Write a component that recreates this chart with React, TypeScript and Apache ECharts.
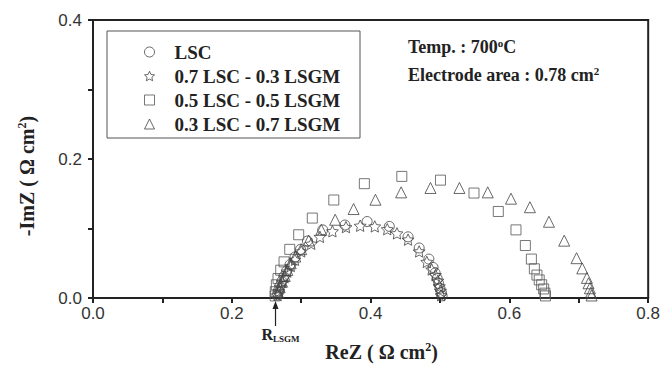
import React, { useEffect, useRef } from "react";
import * as echarts from "echarts";

const seriesNames = ["LSC", "0.7 LSC - 0.3 LSGM", "0.5 LSC - 0.5 LSGM", "0.3 LSC - 0.7 LSGM"];

const lscRe = [0.265, 0.267, 0.269, 0.272, 0.275, 0.279, 0.284, 0.291, 0.299, 0.309, 0.331, 0.363, 0.395, 0.427, 0.454, 0.470, 0.484, 0.490, 0.493, 0.496, 0.498, 0.500, 0.502, 0.503];
const lscIm = [0.004, 0.010, 0.017, 0.024, 0.031, 0.039, 0.048, 0.059, 0.070, 0.082, 0.098, 0.105, 0.110, 0.103, 0.088, 0.072, 0.056, 0.044, 0.036, 0.028, 0.021, 0.014, 0.008, 0.003];

const s73Re = [0.266, 0.268, 0.270, 0.273, 0.276, 0.280, 0.285, 0.291, 0.300, 0.3145, 0.327, 0.345, 0.3645, 0.385, 0.406, 0.424, 0.438, 0.454, 0.470, 0.481, 0.488, 0.4935, 0.497, 0.499, 0.5007, 0.5016];
const s73Im = [0.004, 0.010, 0.016, 0.023, 0.030, 0.038, 0.046, 0.055, 0.067, 0.078, 0.088, 0.096, 0.102, 0.104, 0.103, 0.099, 0.093, 0.084, 0.067, 0.052, 0.041, 0.033, 0.025, 0.017, 0.0105, 0.004];

const s55Re = [0.2625, 0.2627, 0.2642, 0.2666, 0.2705, 0.2753, 0.2835, 0.2964, 0.316, 0.347, 0.391, 0.445, 0.5007, 0.549, 0.584, 0.6095, 0.623, 0.6317, 0.636, 0.6397, 0.643, 0.6465, 0.6494, 0.6512, 0.652];
const s55Im = [0.003, 0.009, 0.019, 0.028, 0.040, 0.052, 0.070, 0.091, 0.115, 0.141, 0.1645, 0.175, 0.1696, 0.151, 0.1245, 0.098, 0.0755, 0.056, 0.042, 0.033, 0.026, 0.019, 0.013, 0.007, 0.003];

const s37Re = [0.2667, 0.269, 0.2724, 0.2763, 0.280, 0.2849, 0.2915, 0.300, 0.3108, 0.329, 0.349, 0.3755, 0.407, 0.444, 0.4863, 0.528, 0.5688, 0.6023, 0.6296, 0.657, 0.679, 0.6968, 0.705, 0.7117, 0.714, 0.716, 0.7174, 0.7184];
const s37Im = [0.0076, 0.0154, 0.0235, 0.0317, 0.0404, 0.050, 0.0596, 0.0703, 0.0827, 0.0981, 0.1126, 0.128, 0.1414, 0.152, 0.1583, 0.1583, 0.152, 0.1429, 0.1306, 0.1097, 0.0825, 0.0573, 0.0426, 0.0289, 0.0212, 0.014, 0.0076, 0.0036];

const xTicks = { min: 0, max: 0.8, interval: 0.2 };
const yTicks = { min: 0, max: 0.4, interval: 0.2 };
const rLsgmRe = 0.263;

const starPath = "path://M50,2 L64.1,32.6 L97.6,36.5 L72.8,59.4 L79.4,92.5 L50,76 L20.6,92.5 L27.2,59.4 L2.4,36.5 L35.9,32.6 Z";

const zip = (a: number[], b: number[]) => a.map((v, i) => [v, b[i]]);

const serif = "'Liberation Serif', 'Times New Roman', serif";
const sans = "'Liberation Sans', Arial, sans-serif";

export default function App() {
  const ref = useRef<HTMLDivElement>(null);
  useEffect(() => {
    const chart = echarts.init(ref.current!, null, { renderer: "svg" });
    const symbols = ["circle", starPath, "rect", "triangle"];
    const sizes = [10, 12, 10, 11];
    const cols = ["#444", "#444", "#555", "#444"];
    const mk = (i: number, re: number[], im: number[]) => ({
      name: seriesNames[i],
      type: "scatter",
      data: zip(re, im),
      symbol: symbols[i],
      symbolSize: sizes[i],
      symbolKeepAspect: true,
      itemStyle: { color: "rgba(255,255,255,0)", borderColor: cols[i], borderWidth: 1 },
    });
    chart.setOption({
      animation: false,
      backgroundColor: "#fff",
      grid: { left: 93, right: 12, top: 20, bottom: 79, show: true, borderColor: "#222", borderWidth: 2 },
      xAxis: {
        type: "value",
        ...xTicks,
        axisLine: { lineStyle: { color: "#222", width: 2 } },
        axisTick: { show: true, inside: false, length: 5, lineStyle: { color: "#222", width: 2 } },
        minorTick: { show: true, splitNumber: 2, length: 5, lineStyle: { color: "#222", width: 2 } },
        splitLine: { show: false },
        axisLabel: { fontFamily: sans, fontSize: 17, color: "#333", margin: 7, formatter: (v: number) => v.toFixed(1) },
        name: "ReZ ( Ω cm{sup|2})",
        nameLocation: "middle",
        nameGap: 43,
        nameTextStyle: {
          fontFamily: serif, fontWeight: "bold", fontSize: 20, color: "#222", padding: [0, 0, 0, 22],
          rich: { sup: { fontFamily: serif, fontWeight: "bold", fontSize: 12, color: "#222", verticalAlign: "top", padding: [0, 0, 10, 0] } },
        },
      },
      yAxis: {
        type: "value",
        ...yTicks,
        axisLine: { lineStyle: { color: "#222", width: 2 } },
        axisTick: { show: true, inside: false, length: 5, lineStyle: { color: "#222", width: 2 } },
        minorTick: { show: true, splitNumber: 2, length: 5, lineStyle: { color: "#222", width: 2 } },
        splitLine: { show: false },
        axisLabel: { fontFamily: sans, fontSize: 17, color: "#333", margin: 11, formatter: (v: number) => v.toFixed(1) },
      },
      legend: {
        orient: "vertical",
        left: 139,
        top: 37,
        itemWidth: 10,
        itemHeight: 10,
        itemGap: 4,
        textStyle: { fontFamily: serif, fontWeight: "bold", fontSize: 19, color: "#222", lineHeight: 20, padding: [0, 0, 0, 15] },
        data: seriesNames.map((n, i) => ({
          name: n,
          icon: symbols[i],
          itemStyle: { color: "rgba(255,255,255,0)", borderColor: cols[i], borderWidth: 1 },
        })),
      },
      series: [
        mk(0, lscRe, lscIm),
        mk(1, s73Re, s73Im),
        mk(2, s55Re, s55Im),
        mk(3, s37Re, s37Im),
      ],
    });
    const [ax, ay] = chart.convertToPixel({ gridIndex: 0 }, [rLsgmRe, 0]) as number[];
    const ann = {
      fontFamily: serif, fontWeight: "bold", fontSize: 18, fill: "#222",
    };
    const supStyle = { fontFamily: serif, fontWeight: "bold", fontSize: 11, fill: "#222", verticalAlign: "top", padding: [0, 0, 8, 0] };
    chart.setOption({
      graphic: [
        { type: "rect", id: "lbox", shape: { x: 107, y: 31, width: 253, height: 107 }, style: { fill: "none", stroke: "#555", lineWidth: 1 }, silent: true },
        { type: "text", id: "temp", x: 408, y: 37, style: { ...ann, text: "Temp. : 700{sup|o}C", rich: { sup: supStyle } } },
        { type: "text", id: "area", x: 408, y: 65, style: { ...ann, text: "Electrode area : 0.78 cm{sup|2}", rich: { sup: supStyle } } },
        {
          type: "text", id: "ytitle", x: 27, y: 176, rotation: Math.PI / 2,
          style: {
            fontFamily: serif, fontWeight: "bold", fontSize: 20, fill: "#222",
            text: "-ImZ ( Ω cm{sup|2})", align: "center", verticalAlign: "middle",
            rich: { sup: { fontFamily: serif, fontWeight: "bold", fontSize: 12, fill: "#222", verticalAlign: "top", padding: [0, 0, 10, 0] } },
          },
        },
        { type: "line", id: "arrowShaft", shape: { x1: ax, y1: ay + 28, x2: ax, y2: ay + 8 }, style: { stroke: "#222", lineWidth: 1.2 } },
        { type: "polygon", id: "arrowHead", shape: { points: [[ax, ay + 3], [ax - 3, ay + 11], [ax + 3, ay + 11]] }, style: { fill: "#222" } },
        {
          type: "text", id: "rlsgm", x: ax - 14, y: ay + 28,
          style: { fontFamily: serif, fontWeight: "bold", fontSize: 16, fill: "#222", text: "R{sub|LSGM}", rich: { sub: { fontFamily: serif, fontWeight: "bold", fontSize: 9, fill: "#222", verticalAlign: "bottom", padding: [8, 0, 0, 0] } } },
        },
      ],
    });
    return () => chart.dispose();
  }, []);
  return <div ref={ref} style={{ position: "fixed", left: 0, top: 0, width: 663, height: 377 }} />;
}
